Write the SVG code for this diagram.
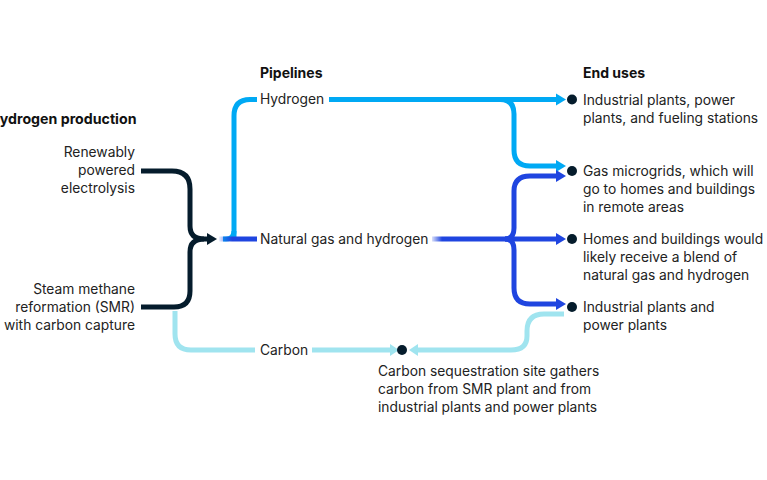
<svg xmlns="http://www.w3.org/2000/svg" width="767" height="480" viewBox="0 0 767 480">
<defs>
<linearGradient id="fadeNg" gradientUnits="userSpaceOnUse" x1="218" y1="0" x2="232" y2="0"><stop offset="0" stop-color="#1f45e0" stop-opacity="0"/><stop offset="1" stop-color="#1f45e0"/></linearGradient>
<linearGradient id="fadeNg2" gradientUnits="userSpaceOnUse" x1="430" y1="0" x2="442" y2="0"><stop offset="0" stop-color="#1f45e0" stop-opacity="0"/><stop offset="1" stop-color="#1f45e0"/></linearGradient>
</defs>
<style>
text{font-family:"Inter","Liberation Sans",sans-serif;font-size:13.8px;fill:#222}
.h{font-weight:700;font-size:14px;fill:#111}
.e{text-anchor:end}
.l{fill:none;stroke-width:5}
.dark{stroke:#051c2c}.sky{stroke:#00a9f4}.blue{stroke:#1f45e0}.pale{stroke:#a0e4ef}
.ad{fill:#051c2c}.as{fill:#00a9f4}.ab{fill:#1f45e0}.ap{fill:#a0e4ef}
.dot{fill:#051c2c}
</style>
<g id="connectors">
<path class="l pale" d="M175 311V334Q175 350 191 350H255"/>
<path class="l pale" d="M312 350H392"/>
<path class="ap" d="M390 344L399 350L390 356Z"/>
<path class="l pale" d="M564 314H544Q527 314 527 331V336Q527 350 511 350H414"/>
<path class="ap" d="M418 344L409 350L418 356Z"/>
<path class="l sky" d="M234 239V116Q234 99.500 250 99.500H257"/>
<path class="l sky" d="M223 239H226Q234 239 234 231"/>
<path class="l sky" d="M329 99.500H558"/>
<path class="as" d="M556 93.500L566 99.500L556 105.500Z"/>
<path class="l sky" d="M500 99.500Q514 99.500 514 114V150Q514 166 530 166H558"/>
<path class="as" d="M556 160L566 166L556 172Z"/>
<path class="l blue" d="M219 239H257" style="stroke:url(#fadeNg)"/>
<path class="l blue" d="M432 239H558" style="stroke:url(#fadeNg2)"/>
<path class="ab" d="M556 233L566 239L556 245Z"/>
<path class="l blue" d="M505 239Q514 239 514 228V191Q514 176 530 176H558"/>
<path class="ab" d="M556 170L566 176L556 182Z"/>
<path class="l blue" d="M505 239Q514 239 514 250V288Q514 304 530 304H558"/>
<path class="ab" d="M556 298L566 304L556 310Z"/>
<path class="l dark" d="M141 171H172Q190 171 190 189V226Q190 239 204 239H210"/>
<path class="l dark" d="M141 307H174Q190 307 190 291V252Q190 239 204 239"/>
<path class="ad" d="M207 233L217 239L207 245Z"/>
</g>
<g id="header-production"><text class="h" x="-11" y="124" style="font-size:14.2px">Hydrogen production</text></g>
<g id="header-pipelines"><text class="h" x="260" y="78">Pipelines</text></g>
<g id="header-end-uses"><text class="h" x="583" y="78">End uses</text></g>
<g id="node-electrolysis"><text class="e" x="135" y="157">Renewably</text><text class="e" x="135" y="175">powered</text><text class="e" x="135" y="193">electrolysis</text></g>
<g id="node-smr"><text class="e" x="135" y="294">Steam methane</text><text class="e" x="135" y="312">reformation (SMR)</text><text class="e" x="135" y="330">with carbon capture</text></g>
<g id="node-hydrogen"><text x="260" y="104">Hydrogen</text></g>
<g id="node-natural-gas"><text x="260" y="244">Natural gas and hydrogen</text></g>
<g id="node-carbon"><text x="260" y="355">Carbon</text></g>
<g id="node-industrial-power"><circle class="dot" cx="572" cy="99.500" r="5"/><text x="583" y="105">Industrial plants, power</text><text x="583" y="123">plants, and fueling stations</text></g>
<g id="node-microgrids"><circle class="dot" cx="572" cy="171" r="5"/><text x="583" y="176">Gas microgrids, which will</text><text x="583" y="194">go to homes and buildings</text><text x="583" y="212">in remote areas</text></g>
<g id="node-homes"><circle class="dot" cx="572" cy="239" r="5"/><text x="583" y="244">Homes and buildings would</text><text x="583" y="262">likely receive a blend of</text><text x="583" y="280">natural gas and hydrogen</text></g>
<g id="node-industrial"><circle class="dot" cx="572" cy="307" r="5"/><text x="583" y="312">Industrial plants and</text><text x="583" y="330">power plants</text></g>
<g id="node-sequestration"><circle class="dot" cx="402" cy="350" r="5"/><text x="378" y="376">Carbon sequestration site gathers</text><text x="378" y="394">carbon from SMR plant and from</text><text x="378" y="412">industrial plants and power plants</text></g>
</svg>
